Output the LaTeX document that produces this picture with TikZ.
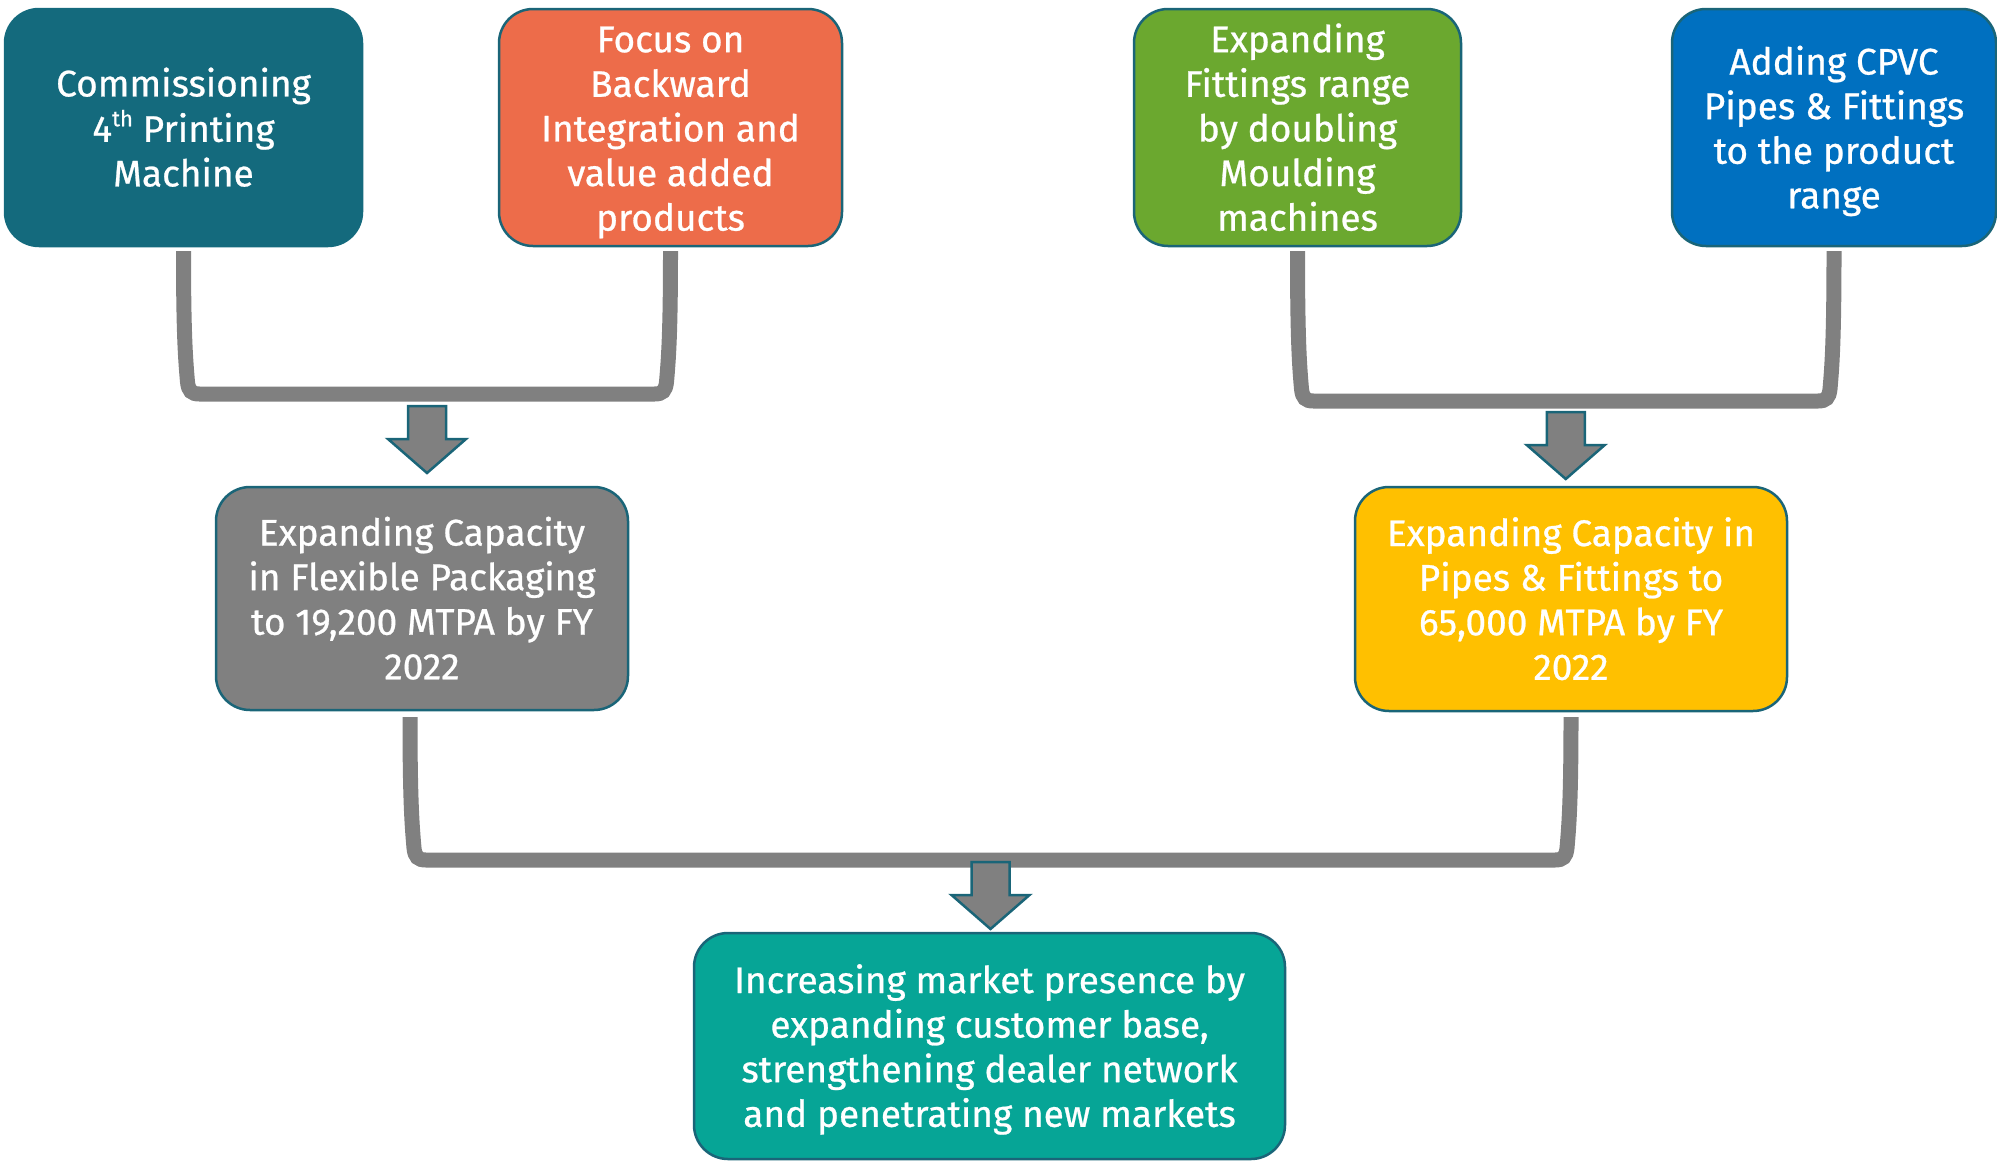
\documentclass[tikz,border=0pt]{standalone}
\usepackage{fontspec}
\setmainfont{Fira Sans}[FakeBold=0.7,AutoFakeBold=0.7]
\usetikzlibrary{calc}

\definecolor{edge}{RGB}{26,101,120}
\definecolor{cA}{RGB}{20,106,125}
\definecolor{cB}{RGB}{237,108,74}
\definecolor{cC}{RGB}{107,168,47}
\definecolor{cD}{RGB}{0,112,192}
\definecolor{cE}{RGB}{128,128,128}
\definecolor{cF}{RGB}{255,192,0}
\definecolor{cG}{RGB}{6,165,150}
\definecolor{linkgrey}{RGB}{128,128,128}

% centred lines with even spacing, set a little below the box middle
\newcommand\lines[1]{\raisebox{-5pt}[\height][\depth]{\begin{tabular}{@{}c@{}}#1\end{tabular}}}

% bracket joining two boxes: #1, #2 = foot points, #3 = top y, #4 = bar y
\newcommand\forklink[4]{%
  \draw[link] (#1 |- 0,#3)
    .. controls ($(#1 |- 0,#4)+(0,-60)$) and ($(#1 |- 0,#4)+(2,-35)$) .. ($(#1 |- 0,#4)+(4,-12)$)
    .. controls ($(#1 |- 0,#4)+(5,-3)$) and ($(#1 |- 0,#4)+(8,0)$) .. ($(#1 |- 0,#4)+(16,0)$)
    -- ($(#2 |- 0,#4)+(-16,0)$)
    .. controls ($(#2 |- 0,#4)+(-8,0)$) and ($(#2 |- 0,#4)+(-5,-3)$) .. ($(#2 |- 0,#4)+(-4,-12)$)
    .. controls ($(#2 |- 0,#4)+(-2,-35)$) and ($(#2 |- 0,#4)+(0,-60)$) .. (#2 |- 0,#3);}

% block arrow pointing down, #1 = top centre
\newcommand\blockdown[1]{%
  \draw[blk] (#1) ++(-19,0) -- ++(38,0) -- ++(0,33) -- ++(20,0) -- ++(-39,34)
    -- ++(-39,-34) -- ++(20,0) -- cycle;}

\begin{document}
\begin{tikzpicture}[x=1pt,y=-1pt,
  box/.style={rounded corners=34pt, draw=edge, line width=2.5pt, text=white,
    inner sep=0pt, font=\fontsize{37}{44.6}\selectfont},
  link/.style={draw=linkgrey, line width=15pt},
  blk/.style={fill=linkgrey, draw=edge, line width=2.5pt, line join=miter}]
\useasboundingbox (0,0) rectangle (1997,1162);

% top row
\node[box, fill=cA, draw=cA, minimum width=357, minimum height=237] (A) at (183.5,127.5)
  {\lines{Commissioning\\4\raisebox{0.42em}{\fontsize{22}{22}\selectfont th} Printing\\Machine}};
\node[box, fill=cB, minimum width=343, minimum height=237] (B) at (670.5,127.5)
  {\lines{Focus on\\Backward\\Integration and\\value added\\products}};
\node[box, fill=cC, minimum width=327, minimum height=237] (C) at (1297.5,127.5)
  {\lines{Expanding\\Fittings range\\by doubling\\Moulding\\machines}};
\node[box, fill=cD, minimum width=324, minimum height=237] (D) at (1834,127.5)
  {\lines{Adding CPVC\\Pipes \& Fittings\\to the product\\range}};

% middle row
\node[box, fill=cE, minimum width=412, minimum height=223] (E) at (422,598.5)
  {\lines{Expanding Capacity\\in Flexible Packaging\\to 19,200 MTPA by FY\\2022}};
\node[box, fill=cF, minimum width=432, minimum height=224] (F) at (1571,599)
  {\lines{Expanding Capacity in\\Pipes \& Fittings to\\65,000 MTPA by FY\\2022}};

% bottom
\node[box, fill=cG, minimum width=591, minimum height=226] (G) at (989.5,1046)
  {\lines{Increasing market presence by\\expanding customer base,\\strengthening dealer network\\and penetrating new markets}};

% connectors
\coordinate (Eo) at ($(E.south)+(-12,0)$);
\forklink{A.south}{B.south}{251}{394}
\forklink{C.south}{D.south}{251}{401}
\forklink{Eo}{F.south}{717}{860}

\coordinate (a1) at ($(A.south)!0.5!(B.south)$);
\coordinate (a2) at ($(C.south)!0.5!(D.south)$);
\coordinate (a3) at ($(Eo)!0.5!(F.south)$);
\blockdown{a1 |- 0,406}
\blockdown{a2 |- 0,412}
\blockdown{a3 |- 0,862}
\end{tikzpicture}
\end{document}
